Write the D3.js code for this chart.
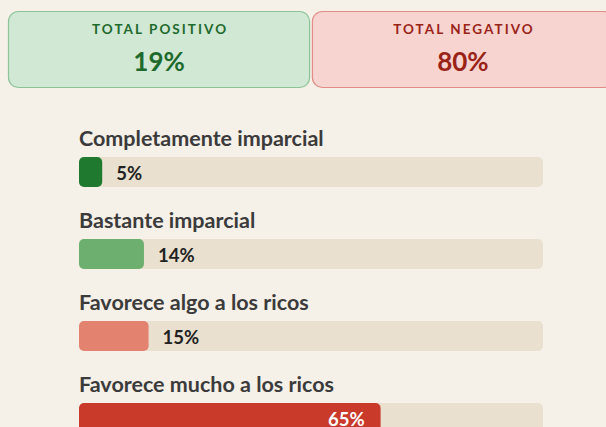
<!DOCTYPE html>
<html>
<head>
<meta charset="utf-8">
<script src="https://cdn.jsdelivr.net/npm/d3@7"></script>
<style>
  html, body { margin: 0; padding: 0; background: #f5f0e8; overflow: hidden; }
  svg { display: block; font-family: Lato, "Open Sans", sans-serif; }
</style>
</head>
<body>
<svg id="chart" width="606" height="427"></svg>
<script>
// summary cards
var totalLabels = ["TOTAL POSITIVO", "TOTAL NEGATIVO"];
var totalValues = [19, 80];

// answers
var categories = [
    "Completamente imparcial",
    "Bastante imparcial",
    "Favorece algo a los ricos",
    "Favorece mucho a los ricos"
];
var values = [5, 14, 15, 65];
var barColors = ["#1f7a2f", "#6daf6f", "#e3826f", "#c93a2b"];

var svg = d3.select("#chart");

// cards
var cardStyle = [
    {fill: "#d1e8d4", stroke: "#8cc497", text: "#1e6a2c"},
    {fill: "#f7d4d0", stroke: "#df8d86", text: "#9a2318"}
];
var cardX = d3.scaleBand().domain(totalLabels).range([8, 614]).paddingInner(0.006);

var cards = svg.selectAll("g.card")
        .data(totalLabels)
        .enter()
        .append("g")
        .attr("class", "card")
        .attr("transform", function (d) {
            return "translate(" + cardX(d) + ",11)";
        });
cards.append("rect")
        .attr("x", 0.5)
        .attr("y", 0.5)
        .attr("width", cardX.bandwidth() - 1)
        .attr("height", 76)
        .attr("rx", 10)
        .attr("fill", function (d, i) { return cardStyle[i].fill; })
        .attr("stroke", function (d, i) { return cardStyle[i].stroke; })
        .attr("stroke-width", 1.2);
cards.append("text")
        .attr("x", cardX.bandwidth() / 2 + 1)
        .attr("y", 23)
        .attr("text-anchor", "middle")
        .attr("font-size", 13.5)
        .attr("font-weight", 700)
        .attr("letter-spacing", 2.05)
        .attr("fill", function (d, i) { return cardStyle[i].text; })
        .text(function (d) { return d; });
cards.append("text")
        .attr("x", cardX.bandwidth() / 2)
        .attr("y", 60)
        .attr("text-anchor", "middle")
        .attr("font-size", 26)
        .attr("font-weight", 700)
        .attr("fill", function (d, i) { return cardStyle[i].text; })
        .text(function (d, i) { return totalValues[i] + "%"; });

// bars
var x = d3.scaleLinear().domain([0, 100]).range([0, 464]);
var y = d3.scaleBand().domain(categories).range([125, 453]);

var rows = svg.selectAll("g.row")
        .data(categories)
        .enter()
        .append("g")
        .attr("class", "row")
        .attr("transform", function (d) {
            return "translate(79," + y(d) + ")";
        });
// question text
rows.append("text")
        .attr("x", 0)
        .attr("y", 21)
        .attr("font-size", 21.5)
        .attr("font-weight", 700)
        .attr("fill", "#3b3b3b")
        .text(function (d) { return d; });
// track
rows.append("rect")
        .attr("y", 32)
        .attr("width", x(100))
        .attr("height", 30)
        .attr("rx", 5)
        .attr("fill", "#e9e0cf");
// bar
rows.append("rect")
        .attr("y", 32)
        .attr("width", function (d, i) { return x(values[i]); })
        .attr("height", 30)
        .attr("rx", 5)
        .attr("fill", function (d, i) { return barColors[i]; });
// value, inside when the bar is long enough
rows.append("text")
        .attr("x", function (d, i) {
            return values[i] > 30 ? x(values[i]) - 16 : x(values[i]) + 14;
        })
        .attr("y", 55)
        .attr("text-anchor", function (d, i) { return values[i] > 30 ? "end" : "start"; })
        .attr("font-size", 18.5)
        .attr("font-weight", 700)
        .attr("fill", function (d, i) { return values[i] > 30 ? "#ffffff" : "#222222"; })
        .text(function (d, i) { return values[i] + "%"; });
</script>
</body>
</html>
